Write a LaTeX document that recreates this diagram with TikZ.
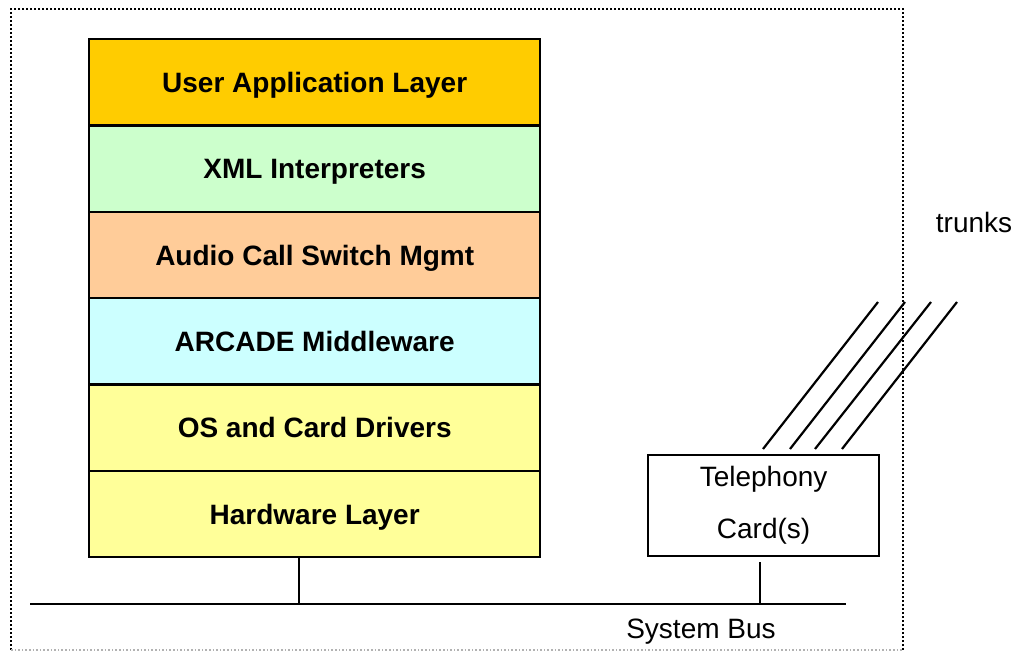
\documentclass[tikz,border=0pt]{standalone}
\usepackage{fontspec}
\setmainfont{Liberation Sans}
\begin{document}
\begin{tikzpicture}[x=1pt,y=-1pt,
  layer/.style={draw=black,line width=2.4pt,minimum width=451pt,minimum height=86.3pt,
    inner sep=0pt,text height=20.5pt,text depth=0pt,
    font=\fontsize{28}{32}\selectfont\bfseries,anchor=north west},
  wire/.style={line width=2.4pt},
  txt/.style={font=\fontsize{28}{32}\selectfont,inner sep=0pt}]
\useasboundingbox (0,0) rectangle (1016,652);
% enclosing system boundary
\draw[line width=2.2pt,dash pattern=on 2pt off 2pt] (903,650) -- (903,9) -- (11,9) -- (11,650);
\draw[line width=1.6pt,gray!60,dash pattern=on 1.6pt off 2pt] (11,650) -- (903,650);
% software / hardware stack
\definecolor{appc}{HTML}{FFCC00}
\definecolor{xmlc}{HTML}{CCFFCC}
\definecolor{audc}{HTML}{FFCC99}
\definecolor{midc}{HTML}{CCFFFF}
\definecolor{osc}{HTML}{FFFF99}
\node[layer,fill=appc] (app) at (88,38) {User Application Layer};
\node[layer,fill=xmlc] (xml) at (88,124.3) {XML Interpreters};
\node[layer,fill=audc] (aud) at (88,210.6) {Audio Call Switch Mgmt};
\node[layer,fill=midc] (mid) at (88,296.9) {ARCADE Middleware};
\node[layer,fill=osc] (os) at (88,383.2) {OS and Card Drivers};
\node[layer,fill=osc] (hw) at (88,469.5) {Hardware Layer};
% telephony card
\node[draw=black,line width=2.2pt,minimum width=231pt,minimum height=101pt,anchor=north west,
  align=center,font=\fontsize{28}{52}\selectfont,inner sep=0pt] (card) at (647,454) {Telephony\\Card(s)};
% system bus
\coordinate (busL) at (30,604);
\coordinate (busR) at (846,604);
\coordinate (tapA) at (299,604);
\coordinate (tapB) at (760,604);
\draw[wire] (busL) -- (busR);
\draw[wire] (tapA |- hw.south) -- (tapA);
\draw[wire] (tapB |- card.south) ++(0,5) -- (tapB);
\node[txt,anchor=base] (buslbl) at (701,638) {System Bus};
% trunk lines
\foreach \i/\xb/\xt in {1/763/878, 2/790/905, 3/815/931, 4/842/957} {
  \coordinate (tb\i) at (\xb,449);
  \coordinate (tt\i) at (\xt,302);
  \draw[wire,line width=2.2pt] (tb\i) -- (tt\i);
}
\node[txt,anchor=base] (trunklbl) at (974,233) {trunks};
\end{tikzpicture}
\end{document}
